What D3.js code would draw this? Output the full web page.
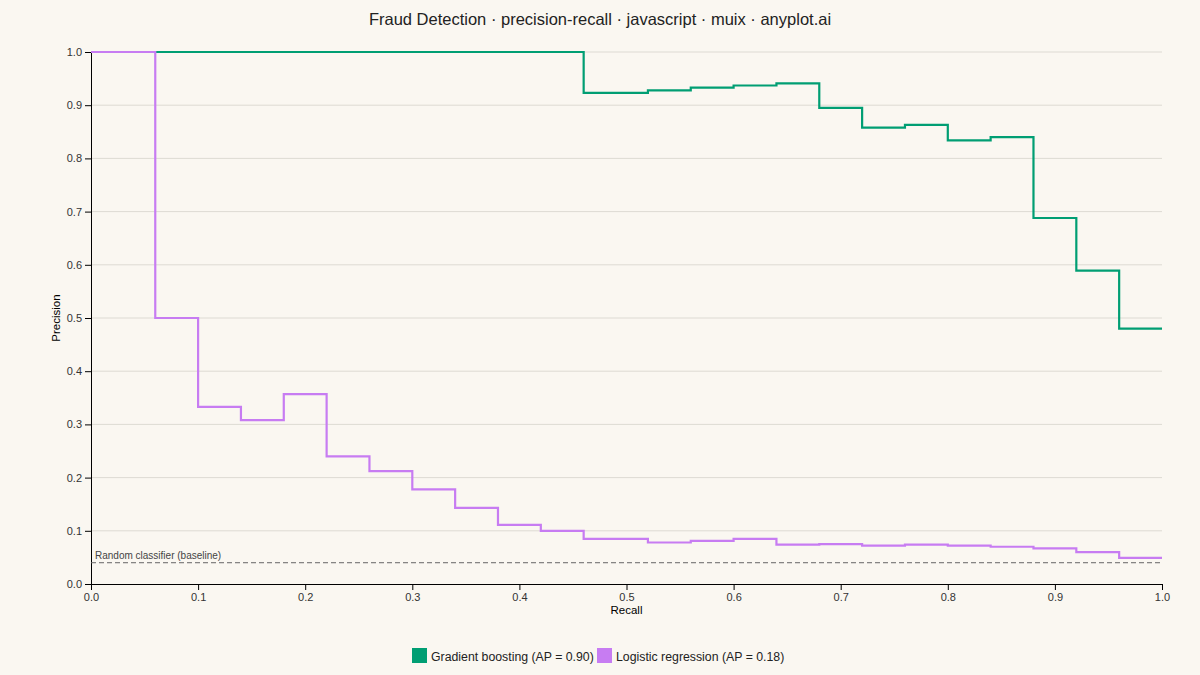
<!DOCTYPE html>
<html><head><meta charset="utf-8">
<script src="https://cdn.jsdelivr.net/npm/d3@7"></script>
<style>body{margin:0;background:#faf7f1;font-family:"Liberation Sans",Arial,sans-serif}</style>
</head><body><svg id="c" width="1200" height="675"></svg>
<script>
const gbRecall = [0,0.46,0.52,0.56,0.60,0.64,0.68,0.72,0.76,0.80,0.84,0.88,0.92,0.96,1.0];
const gbPrecision = [1.0,0.923,0.928,0.933,0.937,0.941,0.895,0.858,0.863,0.834,0.840,0.688,0.589,0.480,0.480];
const lrRecall = [0,0.06,0.10,0.14,0.18,0.22,0.26,0.30,0.34,0.38,0.42,0.46,0.52,0.56,0.60,0.64,0.68,0.72,0.76,0.80,0.84,0.88,0.92,0.96,1.0];
const lrPrecision = [1.0,0.5,0.333,0.308,0.357,0.24,0.212,0.178,0.143,0.111,0.1,0.085,0.078,0.081,0.085,0.074,0.075,0.072,0.074,0.072,0.070,0.067,0.060,0.049,0.049];
const baseline = 0.04;
const ticks = [0,0.1,0.2,0.3,0.4,0.5,0.6,0.7,0.8,0.9,1.0];
const seriesNames = ["Gradient boosting (AP = 0.90)","Logistic regression (AP = 0.18)"];
const colors = ["#009e73","#c77cf2"];

const svg = d3.select("#c");
const m = {l:91,r:1162,t:52,b:584};
const x = d3.scaleLinear().domain([0,1]).range([m.l,m.r]);
const y = d3.scaleLinear().domain([0,1]).range([m.b,m.t]);
svg.append("rect").attr("width",1200).attr("height",675).attr("fill","#faf7f1");
svg.append("text").attr("x",600).attr("y",25).attr("text-anchor","middle").attr("font-size",16.5).attr("fill","#222")
  .text("Fraud Detection · precision-recall · javascript · muix · anyplot.ai");
svg.append("g").selectAll("line").data(ticks.slice(1)).join("line")
  .attr("x1",m.l).attr("x2",m.r).attr("y1",d=>y(d)).attr("y2",d=>y(d)).attr("stroke","#dddad3");
const fmt = d3.format(".1f");
svg.append("g").attr("transform",`translate(0,${m.b})`).call(d3.axisBottom(x).tickValues(ticks).tickFormat(fmt).tickSizeOuter(0))
  .call(g=>g.selectAll("text").attr("font-size",11).attr("fill","#333"));
svg.append("g").attr("transform",`translate(${m.l},0)`).call(d3.axisLeft(y).tickValues(ticks).tickFormat(fmt).tickSizeOuter(0))
  .call(g=>g.selectAll("text").attr("font-size",11).attr("fill","#333"));
svg.append("text").attr("x",(m.l+m.r)/2).attr("y",614).attr("text-anchor","middle").attr("font-size",11.5).text("Recall");
svg.append("text").attr("transform",`translate(60,${(m.t+m.b)/2}) rotate(-90)`).attr("text-anchor","middle").attr("font-size",11.5).text("Precision");
svg.append("line").attr("x1",x(0)).attr("x2",x(1)).attr("y1",y(baseline)).attr("y2",y(baseline))
  .attr("stroke","#666").attr("stroke-dasharray","5,3");
svg.append("text").attr("x",x(0)+4).attr("y",y(baseline)-4).attr("font-size",10).attr("fill","#444").text("Random classifier (baseline)");
const line = d3.line().curve(d3.curveStepAfter).x(d=>x(d[0])).y(d=>y(d[1]));
[[gbRecall,gbPrecision],[lrRecall,lrPrecision]].forEach((s,i)=>{
  svg.append("path").datum(s[0].map((r,j)=>[r,s[1][j]])).attr("d",line).attr("fill","none")
    .attr("stroke",colors[i]).attr("stroke-width",2.2);
});
const lg = svg.append("g");
const lx=[412,597];
seriesNames.forEach((n,i)=>{
  lg.append("rect").attr("x",lx[i]).attr("y",648).attr("width",15).attr("height",15).attr("fill",colors[i]);
  lg.append("text").attr("x",lx[i]+19).attr("y",661).attr("font-size",12.3).attr("fill","#222").text(n);
});
</script></body></html>
